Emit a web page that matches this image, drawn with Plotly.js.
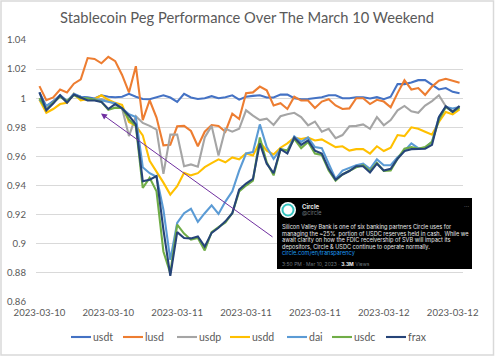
<!DOCTYPE html>
<html><head><meta charset="utf-8">
<script src="https://cdn.plot.ly/plotly-3.0.1.min.js"></script>
<style>html,body{margin:0;padding:0;background:#fff}</style></head>
<body><div id="chart" style="width:495px;height:356px"></div>
<script>
const tickPositions=[0,10,20,30,40,50,60];
const tickLabels=["2023-03-10","2023-03-10","2023-03-11","2023-03-11","2023-03-11","2023-03-12","2023-03-12"];
const usdt=[1.004,0.9945,0.998,1.002,0.998,1.0025,1.001,1.0007,0.9998,1.002,1.001,1.0007,1.001,1.003,1.001,0.9995,0.9993,1.0007,1.002,1.0005,0.9975,1.003,1.0005,0.9995,1,1.0014,1,1.0007,1.002,0.999,1.001,1.0016,1.002,1.0005,1.0005,1.0025,1.0025,1,0.9993,0.9995,1,1.0007,1.002,1.002,1,1,1.0007,1.0007,0.9998,1.0007,0.9993,1.001,1.0097,1.0097,1.0108,1.0124,1.0124,1.009,1.006,1.007,1.0044,1.0034];
const lusd=[1.0083,0.9986,1.0005,1.006,1.004,1.01,1.013,1.0276,1.027,1.024,1.0285,1.0255,1.016,1.004,1.022,0.985,0.9986,0.9867,0.9676,0.968,0.9807,0.981,0.9775,0.967,0.977,0.9816,0.981,0.977,0.9894,0.9857,1.0034,1.004,1.008,1.0055,0.995,0.9966,0.9926,1.001,0.9984,0.9984,0.9933,0.9977,0.9993,0.995,0.9926,0.993,1,1,0.996,0.9989,0.9977,0.9938,1.0035,1.0124,1.006,1.007,1.0023,1.008,1.012,1.0133,1.012,1.0106];
const usdp=[1,0.993,0.997,1.002,0.997,1.003,1,0.999,0.999,0.9995,0.998,0.996,0.993,0.974,0.9876,0.983,0.981,0.9784,0.948,0.975,0.975,0.9533,0.9545,0.953,0.973,0.981,0.9607,0.979,0.977,0.979,0.9917,0.988,0.985,0.986,0.9816,0.9876,0.989,0.99,0.987,0.9814,0.984,0.977,0.979,0.9726,0.9747,0.9807,0.981,0.982,0.979,0.987,0.9814,0.985,0.9917,0.9947,0.991,0.99,0.995,0.998,1.002,0.9945,0.991,0.9945];
const usdd=[0.999,0.99,0.9926,0.996,0.9968,1.003,0.9986,0.9995,0.9995,1.002,0.9989,0.9968,0.9954,0.9837,0.981,0.9745,0.957,0.9497,0.942,0.9338,0.9395,0.9487,0.947,0.9485,0.9526,0.9554,0.958,0.956,0.9593,0.958,0.962,0.9607,0.97,0.964,0.9614,0.966,0.969,0.973,0.972,0.973,0.971,0.9717,0.969,0.9664,0.967,0.964,0.965,0.965,0.962,0.967,0.9637,0.966,0.9747,0.974,0.98,0.979,0.977,0.975,0.9837,0.9906,0.989,0.9924];
const dai=[0.999,0.995,0.997,1.002,0.998,1.003,1.001,0.9995,0.9995,0.9985,0.997,0.9965,0.993,0.989,0.9871,0.9526,0.9485,0.946,0.9234,0.889,0.9143,0.921,0.924,0.915,0.921,0.9264,0.9205,0.929,0.936,0.9503,0.962,0.963,0.982,0.9664,0.9584,0.965,0.964,0.9738,0.97,0.973,0.9664,0.9657,0.955,0.9446,0.9503,0.952,0.954,0.955,0.9515,0.958,0.954,0.954,0.9595,0.9637,0.969,0.9657,0.966,0.97,0.987,0.994,0.993,0.994];
const usdc=[1,0.992,0.997,1.001,0.998,1.002,1,1,0.999,0.9975,0.992,0.9935,0.9933,0.9853,0.981,0.9384,0.9453,0.936,0.8947,0.8798,0.9131,0.907,0.9028,0.904,0.8954,0.908,0.9115,0.9147,0.921,0.936,0.94,0.9434,0.973,0.956,0.947,0.965,0.964,0.972,0.9657,0.97,0.962,0.961,0.9503,0.9434,0.9476,0.9503,0.9526,0.954,0.95,0.9556,0.95,0.9503,0.9584,0.9653,0.9664,0.9653,0.9664,0.97,0.985,0.994,0.9906,0.9936];
const frax=[1.004,0.9917,0.9963,1.002,0.997,1.0025,1.0005,0.9984,0.9984,0.9975,0.9926,0.996,0.993,0.988,0.982,0.943,0.944,0.9465,0.9097,0.878,0.908,0.904,0.9037,0.905,0.898,0.9075,0.911,0.9154,0.921,0.9372,0.9414,0.9446,0.969,0.955,0.9485,0.965,0.962,0.973,0.968,0.971,0.964,0.962,0.9515,0.944,0.9476,0.95,0.9533,0.9533,0.949,0.955,0.9503,0.9515,0.9584,0.9637,0.965,0.9653,0.9653,0.968,0.987,0.9945,0.9906,0.9947];
const seriesNames=["usdt","lusd","usdp","usdd","dai","usdc","frax"];
const seriesValues=[usdt,lusd,usdp,usdd,dai,usdc,frax];
const seriesColors=["#4472C4","#ED7D31","#A5A5A5","#FFC000","#5B9BD5","#70AD47","#264478"];
const legendStarts=[71,123,177,230,287,332,386];
const tweetLines=["Silicon Valley Bank is one of six banking partners Circle uses for","managing the ~25%  portion of USDC reserves held in cash.  While we","await clarity on how the FDIC receivership of SVB will impact its","depositors, Circle & USDC continue to operate normally."];

const W=495,H=356,L=36,R=463,T=40,B=302;
const px=x=>(x-L)/(R-L), py=y=>(B-y)/(B-T);
const note=(text,x,y,size,color,extra)=>Object.assign({text,x:px(x),y:py(y),xref:'paper',yref:'paper',xanchor:'left',yanchor:'middle',showarrow:false,font:{family:'Inter, Open Sans, sans-serif',size,color},borderpad:0},extra||{});
const rect=(type,x0,y0,x1,y1,fill,line,lw)=>({type,xref:'paper',yref:'paper',x0:px(x0),y0:py(y0),x1:px(x1),y1:py(y1),fillcolor:fill,line:{color:line,width:lw},layer:'above'});

const traces=seriesNames.map((n,k)=>({name:n,type:'scatter',mode:'lines',x:seriesValues[k].map((_,i)=>i),y:seriesValues[k],line:{color:seriesColors[k],width:2.1}}));
const annotations=[
 {x:px(101),y:py(113.5),ax:px(274),ay:py(238),xref:'paper',yref:'paper',axref:'paper',ayref:'paper',text:'',showarrow:true,arrowhead:2,arrowsize:1.2,arrowwidth:1,arrowcolor:'#7030A0'},
 note('Circle',301,206,6,'#e8e8e8',{font:{family:'Inter, sans-serif',size:6,color:'#e8e8e8',weight:700}}),
 note('@circle',301,213,5.5,'#6e767d'),
 note('···',463,206,6,'#8a8f94'),
 note('circle.com/en/transparency',281,253,5.6,'#1d9bf0'),
 note('3:50 PM · Mar 10, 2023 · <b style="color:#eee">3.3M</b> Views',281,264,5,'#6e767d')
].concat(tweetLines.map((t,i)=>note(t,281,227+i*6.6,5.6,'#e8e8e8')))
 .concat(seriesNames.map((n,k)=>note(n,legendStarts[k]+21,337,10.5,'#595959',{font:{family:'Lato, sans-serif',size:10.5,color:'#595959'}})));
const shapes=[
 rect('rect',1,1,493.5,355,'rgba(0,0,0,0)','#d9d9d9',1.5),
 rect('rect',277,198,472,269,'#000','#000',0),
 rect('circle',280,202,296,218,'#fff','#fff',0),
 rect('circle',282.5,204.5,293.5,215.5,'rgba(0,0,0,0)','#35c4c0',2)
].concat(seriesNames.map((n,k)=>rect('line',legendStarts[k],337,legendStarts[k]+20,337,'rgba(0,0,0,0)',seriesColors[k],2.1)));
Plotly.newPlot('chart',traces,{
 width:W,height:H,margin:{l:L,r:W-R,t:T,b:H-B},showlegend:false,
 paper_bgcolor:'#fff',plot_bgcolor:'#fff',
 title:{text:'Stablecoin Peg Performance Over The March 10 Weekend',font:{family:'Lato, sans-serif',size:14.7,color:'#595959'},x:247/W,xanchor:'center',y:1-18/H,yanchor:'middle'},
 font:{family:'Lato, sans-serif',size:10,color:'#595959'},
 xaxis:{range:[-0.5,61.5],tickmode:'array',tickvals:tickPositions,ticktext:tickLabels,showgrid:false,zeroline:false,showline:false,ticks:'',tickangle:0,ticklabelstandoff:3,tickfont:{size:9.6,color:'#595959'}},
 yaxis:{range:[0.86,1.04],tickmode:'array',tickvals:[0.86,0.88,0.9,0.92,0.94,0.96,0.98,1,1.02,1.04],ticktext:['0.86','0.88','0.9','0.92','0.94','0.96','0.98','1','1.02','1.04'],gridcolor:'#d9d9d9',gridwidth:1,zeroline:false,showline:false,ticks:'',ticklabelstandoff:9,tickfont:{size:9.6,color:'#595959'}},
 shapes,annotations
},{displayModeBar:false,staticPlot:true});
</script></body></html>
